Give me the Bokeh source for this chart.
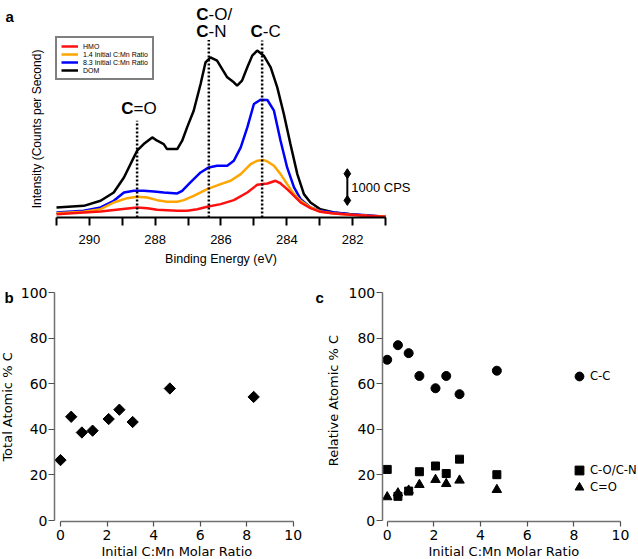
import math
from bokeh.plotting import figure
from bokeh.layouts import column, row
from bokeh.models import Range1d, FixedTicker, Label, Legend, LegendItem
from bokeh.embed import file_html
from bokeh.resources import INLINE
from bokeh.core.properties import value

# ---------------- data: panel a (XPS C1s spectra, counts per second) ----------------
dom_ev = [291.00, 290.17, 289.66, 289.26, 288.95, 288.65, 288.55, 288.35, 288.09, 287.94, 287.74, 287.64,
          287.33, 287.18, 287.03, 286.83, 286.62, 286.47, 286.32, 286.12, 285.81, 285.61, 285.51, 285.36,
          285.20, 285.05, 284.90, 284.70, 284.49, 284.29, 284.09, 283.89, 283.68, 283.48, 283.28, 282.98,
          282.57, 282.06, 281.56, 281.00]
dom_cps = [375, 437, 625, 937, 1500, 2250, 2500, 2750, 3000, 2875, 2750, 2562,
           2562, 2875, 3375, 4000, 5000, 5812, 6000, 5875, 5250, 5062, 4937, 5125,
           5625, 6062, 6250, 6062, 5625, 4875, 3875, 2750, 1625, 875, 562, 312,
           187, 125, 62, 25]

r83_ev = [291.00, 290.17, 289.66, 289.26, 288.95, 288.65, 288.35, 288.04, 287.74, 287.33, 287.18, 286.93,
          286.62, 286.37, 286.12, 285.81, 285.61, 285.40, 285.20, 285.00, 284.80, 284.59, 284.39, 284.19,
          283.99, 283.78, 283.58, 283.28, 282.98, 282.57, 282.06, 281.56, 281.00]
r83_cps = [187, 250, 375, 625, 937, 1000, 1000, 975, 937, 900, 1000, 1312,
           1687, 1875, 1937, 1937, 2125, 2625, 3375, 4250, 4412, 4400, 4000, 2875,
           1875, 1125, 687, 375, 250, 187, 125, 87, 25]

r14_ev = [291.00, 290.17, 289.66, 289.26, 288.85, 288.55, 288.24, 287.94, 287.64, 287.33, 287.13, 286.83,
          286.42, 286.01, 285.71, 285.40, 285.10, 284.90, 284.70, 284.59, 284.39, 284.19, 283.99, 283.78,
          283.58, 283.28, 282.98, 282.57, 282.06, 281.56, 281.00]
r14_cps = [162, 212, 312, 562, 725, 775, 750, 650, 587, 587, 650, 812,
           1062, 1250, 1375, 1625, 2000, 2125, 2150, 2100, 1937, 1625, 1250, 875,
           625, 375, 225, 150, 100, 62, 37]

hmo_ev = [291.00, 290.17, 289.66, 289.05, 288.55, 288.24, 287.94, 287.64, 287.33, 287.03, 286.72, 286.42,
          286.01, 285.61, 285.20, 284.90, 284.59, 284.34, 284.19, 283.99, 283.78, 283.58, 283.28, 282.98,
          282.57, 282.06, 281.56, 281.00]
hmo_cps = [125, 187, 225, 312, 375, 350, 287, 275, 250, 250, 312, 400,
           500, 650, 937, 1225, 1275, 1375, 1275, 1062, 812, 562, 350, 212,
           150, 100, 62, 25]

series_labels = ["HMO", "1.4 Initial C:Mn Ratio", "8.3 Initial C:Mn Ratio", "DOM"]

peak_ev = [288.55, 286.37, 284.75]
peak_top = [3625, 6650, 6625]

xa_ticks = [290, 288, 286, 284, 282]
xa_minor = [291, 289, 287, 285, 283, 281]

scalebar_ev = 282.16
scalebar_cps = [640, 1640]

# ---------------- data: panels b and c ----------------
ratio = [0.0, 0.46, 0.92, 1.38, 2.07, 2.53, 3.10, 4.70, 8.30]
total_c = [26.5, 45.5, 38.6, 39.4, 44.5, 48.6, 43.2, 57.9, 54.2]

ratio_c = [0.0, 0.46, 0.92, 1.38, 2.07, 2.53, 3.10, 4.70]
cc = [70.5, 76.9, 73.4, 63.4, 58.0, 63.4, 55.4, 65.7]
con = [22.4, 10.6, 12.9, 21.4, 23.9, 20.6, 26.9, 20.1]
c_o = [10.3, 12.0, 13.2, 15.7, 17.9, 16.1, 17.6, 13.5]

bc_xticks = [0, 2, 4, 6, 8, 10]
bc_yticks = [0, 20, 40, 60, 80, 100]

FA = "Liberation Sans"
FB = "DejaVu Sans"

# ---------------- panel a ----------------
pa = figure(width=638, height=270, x_range=Range1d(292.702, 273.310), y_range=Range1d(-1985, 8127),
            output_backend="svg", toolbar_location=None,
            min_border=0, min_border_left=0, min_border_right=0, min_border_top=0, min_border_bottom=0)
pa.outline_line_color = None
pa.grid.visible = False
pa.yaxis.visible = False
pa.background_fill_color = "white"
pa.border_fill_color = "white"

xa = pa.xaxis[0]
xa.fixed_location = 0
xa.ticker = FixedTicker(ticks=xa_ticks, minor_ticks=xa_minor)
xa.bounds = (281, 291)
xa.axis_line_width = 2
xa.axis_line_color = "black"
xa.major_tick_in = 0
xa.major_tick_out = 8
xa.minor_tick_in = 0
xa.minor_tick_out = 8
xa.major_tick_line_width = 2
xa.minor_tick_line_width = 2
xa.major_tick_line_color = "black"
xa.minor_tick_line_color = "black"
xa.major_label_text_font = FA
xa.major_label_text_font_size = "13px"
xa.major_label_text_color = "black"
xa.major_label_standoff = 10

r_dom = pa.line(dom_ev, dom_cps, line_color="black", line_width=2.5)
r_83 = pa.line(r83_ev, r83_cps, line_color="#0000ff", line_width=2.5)
r_14 = pa.line(r14_ev, r14_cps, line_color="#ffa500", line_width=2.5)
r_hmo = pa.line(hmo_ev, hmo_cps, line_color="#ff1010", line_width=2.5)

pa.segment(x0=peak_ev, y0=[0] * len(peak_ev), x1=peak_ev, y1=peak_top,
           line_color="black", line_width=2.5, line_dash="2 2")

# peak annotations: bold "C" + regular remainder
ann_x = [288.66, 286.38, 286.38, 284.73]
ann_y = [4071, 7614, 6966, 6966]
ann_rest = ["=O", "-O/", "-N", "-C"]
pa.text(x=ann_x, y=ann_y, text=["C"] * 4, text_align="right", text_baseline="middle",
        text_font=value(FA), text_font_style="bold", text_font_size="17px", text_color="black")
pa.text(x=ann_x, y=ann_y, text=ann_rest, text_align="left", text_baseline="middle",
        text_font=value(FA), text_font_style="normal", text_font_size="17px", text_color="black")

# scale bar
pa.segment(x0=[scalebar_ev], y0=[scalebar_cps[0]], x1=[scalebar_ev], y1=[scalebar_cps[1]],
           line_color="black", line_width=2)
pa.scatter(x=[scalebar_ev, scalebar_ev], y=scalebar_cps, marker="diamond", size=10, color="black")
pa.add_layout(Label(x=282.04, y=1140, text="1000 CPS", text_align="left", text_baseline="middle",
                    text_font=FA, text_font_size="13px", text_color="black"))

pa.add_layout(Label(x=291.587, y=3315, text="Intensity (Counts per Second)", angle=math.pi / 2,
                    text_align="center", text_baseline="middle",
                    text_font=FA, text_font_size="12px", text_color="black"))
pa.add_layout(Label(x=286.0, y=-1536, text="Binding Energy (eV)", text_align="center",
                    text_baseline="middle", text_font=FA, text_font_size="12.5px", text_color="black"))
pa.add_layout(Label(x=292.55, y=7528, text="a", text_align="left", text_baseline="middle",
                    text_font=FA, text_font_style="bold", text_font_size="15px", text_color="black"))

leg_a = Legend(items=[LegendItem(label=series_labels[0], renderers=[r_hmo]),
                      LegendItem(label=series_labels[1], renderers=[r_14]),
                      LegendItem(label=series_labels[2], renderers=[r_83]),
                      LegendItem(label=series_labels[3], renderers=[r_dom])],
               location=(55, 190), padding=4, spacing=0, margin=0,
               glyph_width=17, glyph_height=8, label_height=8, label_standoff=5,
               label_text_font=FA, label_text_font_size="7px", label_text_color="black",
               border_line_color="black", border_line_width=2, background_fill_color="white",
               background_fill_alpha=1)
pa.add_layout(leg_a)


def style_bc(p, x_axis_at, y_axis_at):
    p.outline_line_color = None
    p.grid.visible = False
    p.background_fill_color = "white"
    p.border_fill_color = "white"
    p.xaxis[0].fixed_location = x_axis_at
    p.yaxis[0].fixed_location = y_axis_at
    for ax, ticks, out in ((p.xaxis[0], bc_xticks, 5), (p.yaxis[0], bc_yticks, 6)):
        ax.ticker = FixedTicker(ticks=ticks)
        ax.bounds = (ticks[0], ticks[-1])
        ax.axis_line_color = "#707070"
        ax.axis_line_width = 1.5
        ax.major_tick_line_color = "#505050"
        ax.major_tick_line_width = 1.2
        ax.major_tick_in = 0
        ax.major_tick_out = out
        ax.minor_tick_line_color = None
        ax.major_label_text_font = FB
        ax.major_label_text_font_size = "14px"
        ax.major_label_text_color = "black"
    p.xaxis[0].major_label_standoff = 3
    p.yaxis[0].major_label_standoff = 1


# ---------------- panel b ----------------
pb = figure(width=312, height=289, x_range=Range1d(-2.578, 10.829), y_range=Range1d(-17.105, 109.65),
            output_backend="svg", toolbar_location=None,
            min_border=0, min_border_left=0, min_border_right=0, min_border_top=0, min_border_bottom=0)
style_bc(pb, -0.44, -0.258)
pb.scatter(ratio, total_c, marker="square", angle=math.pi / 4, size=8, color="black")
pb.add_layout(Label(x=-2.256, y=49.8, text="Total Atomic % C", angle=math.pi / 2,
                    text_align="center", text_baseline="middle",
                    text_font=FB, text_font_size="13px", text_color="black"))
pb.add_layout(Label(x=5.0, y=-13.6, text="Initial C:Mn Molar Ratio",
                    text_align="center", text_baseline="middle",
                    text_font=FB, text_font_size="13px", text_color="black"))
pb.add_layout(Label(x=-2.407, y=97.8, text="b", text_align="left", text_baseline="alphabetic",
                    text_font=FA, text_font_style="bold", text_font_size="15px", text_color="black"))

# ---------------- panel c ----------------
pc = figure(width=326, height=289, x_range=Range1d(-3.202, 10.771), y_range=Range1d(-17.105, 109.65),
            output_backend="svg", toolbar_location=None,
            min_border=0, min_border_left=0, min_border_right=0, min_border_top=0, min_border_bottom=0)
style_bc(pc, -0.44, -0.214)
r_cc = pc.scatter(ratio_c, cc, marker="circle", size=9, color="black")
r_con = pc.scatter(ratio_c, con, marker="square", size=8, color="black")
r_co = pc.scatter(ratio_c, c_o, marker="triangle", size=9.5, color="black")
pc.add_layout(Label(x=-2.323, y=52.6, text="Relative Atomic % C", angle=math.pi / 2,
                    text_align="center", text_baseline="middle",
                    text_font=FB, text_font_size="13px", text_color="black"))
pc.add_layout(Label(x=5.0, y=-13.6, text="Initial C:Mn Molar Ratio",
                    text_align="center", text_baseline="middle",
                    text_font=FB, text_font_size="13px", text_color="black"))
pc.add_layout(Label(x=-3.07, y=97.8, text="c", text_align="left", text_baseline="alphabetic",
                    text_font=FA, text_font_style="bold", text_font_size="15px", text_color="black"))

for lbl, rend, loc in (("C-C", r_cc, (256, 172)), ("C-O/C-N", r_con, (256, 78)), ("C=O", r_co, (256, 61))):
    lg = Legend(items=[LegendItem(label=lbl, renderers=[rend])], location=loc, padding=0, margin=0,
                glyph_width=22, glyph_height=22, label_height=22, label_standoff=0,
                label_text_font=FB, label_text_font_size="11.6px", label_text_color="black",
                border_line_color=None, background_fill_alpha=0)
    pc.add_layout(lg)

layout = column(pa, row(pb, pc))
open("out.html", "w").write(file_html(layout, INLINE))
